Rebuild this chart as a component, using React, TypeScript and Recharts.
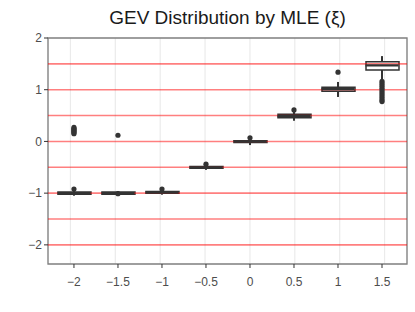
import {
  ComposedChart,
  Bar,
  Scatter,
  XAxis,
  YAxis,
  CartesianGrid,
  ReferenceLine,
  ReferenceArea,
} from 'recharts'

// true shape values (one box per value)
const xi = [-2, -1.5, -1, -0.5, 0, 0.5, 1, 1.5]
const lowerWhisker = [-1.05, -1.04, -1.03, -0.55, -0.07, 0.4, 0.86, 1.2]
const q1 = [-1.02, -1.02, -1.0, -0.52, -0.02, 0.46, 0.97, 1.38]
const median = [-1.0, -1.0, -0.99, -0.5, 0.0, 0.49, 1.01, 1.47]
const q3 = [-0.98, -0.98, -0.97, -0.485, 0.015, 0.525, 1.05, 1.54]
const upperWhisker = [-0.95, -0.96, -0.94, -0.46, 0.05, 0.58, 1.15, 1.65]
const outliers = [
  [0.27, 0.25, 0.23, 0.21, 0.19, 0.17, 0.15, -0.92],
  [0.12, -1.01],
  [-0.92],
  [-0.44],
  [0.07],
  [0.61],
  [1.34],
  [1.16, 1.12, 1.08, 1.04, 1.0, 0.96, 0.92, 0.88, 0.84, 0.8, 0.77],
]
const refValues = [-2, -1.5, -1, -0.5, 0, 0.5, 1, 1.5]
const xTicks = [-2, -1.5, -1, -0.5, 0, 0.5, 1, 1.5]
const yTicks = [-2, -1, 0, 1, 2]

const X_DOMAIN: [number, number] = [-2.295, 1.784]
const Y_DOMAIN: [number, number] = [-2.37, 2]
const BOX_W = 33
const DARK = '#333333'
const FONT = '"Liberation Sans", Arial, sans-serif'

const boxData = xi.map((x, i) => ({
  x,
  box: [q1[i], q3[i]],
  whisker: [lowerWhisker[i], upperWhisker[i]],
}))
const medianData = xi.map((x, i) => ({ x, y: median[i] }))
const outlierData = xi.flatMap((x, i) => outliers[i].map((y) => ({ x, y })))

const fmt = (v: number) => String(v).replace('-', '\u2212')

const MedianLine = (p: any) => (
  <line
    x1={p.cx - BOX_W / 2}
    x2={p.cx + BOX_W / 2}
    y1={p.cy}
    y2={p.cy}
    stroke={DARK}
    strokeWidth={2.2}
  />
)

const Dot = (p: any) => <circle cx={p.cx} cy={p.cy} r={2.6} fill={DARK} />

export default function App() {
  return (
    <div style={s.page}>
      <div style={s.title}>GEV Distribution by MLE (ξ)</div>
      <ComposedChart
        width={415}
        height={312}
        data={boxData}
        margin={{ top: 38, right: 8, bottom: 18, left: 0 }}
      >
        <CartesianGrid horizontal={false} stroke="#ebebeb" strokeWidth={1.2} />
        <XAxis
          xAxisId="main"
          dataKey="x"
          type="number"
          domain={X_DOMAIN}
          ticks={xTicks}
          tickFormatter={fmt}
          allowDataOverflow
          height={30}
          axisLine={false}
          tickLine={{ stroke: DARK }}
          tickSize={4}
          tickMargin={9}
          tick={{ fill: '#4d4d4d', fontSize: 12, fontFamily: FONT }}
        />
        <XAxis
          xAxisId="whisk"
          dataKey="x"
          type="number"
          domain={X_DOMAIN}
          allowDataOverflow
          hide
        />
        <YAxis
          dataKey="y"
          type="number"
          domain={Y_DOMAIN}
          ticks={yTicks}
          tickFormatter={fmt}
          allowDataOverflow
          width={48}
          axisLine={false}
          tickLine={{ stroke: DARK }}
          tickSize={4}
          tick={{ fill: '#4d4d4d', fontSize: 12, fontFamily: FONT }}
        />
        <Bar
          xAxisId="whisk"
          dataKey="whisker"
          barSize={2}
          fill={DARK}
          isAnimationActive={false}
        />
        <Bar
          xAxisId="main"
          dataKey="box"
          barSize={BOX_W}
          fill="#ffffff"
          stroke={DARK}
          strokeWidth={1.5}
          isAnimationActive={false}
        />
        <Scatter
          xAxisId="main"
          data={medianData}
          shape={MedianLine}
          isAnimationActive={false}
        />
        <Scatter
          xAxisId="main"
          data={outlierData}
          shape={Dot}
          isAnimationActive={false}
        />
        {refValues.map((v) => (
          <ReferenceLine
            key={v}
            xAxisId="main"
            y={v}
            stroke="#ff0000"
            strokeOpacity={0.5}
            strokeWidth={1.6}
          />
        ))}
        <ReferenceArea
          xAxisId="main"
          x1={X_DOMAIN[0]}
          x2={X_DOMAIN[1]}
          y1={Y_DOMAIN[0]}
          y2={Y_DOMAIN[1]}
          fill="none"
          stroke="#7f7f7f"
          strokeWidth={1.3}
        />
      </ComposedChart>
    </div>
  )
}

const s = {
  page: {
    position: 'absolute' as const,
    left: 0,
    top: 0,
    width: 415,
    height: 312,
    background: '#fff',
  } as React.CSSProperties,
  title: {
    position: 'absolute' as const,
    left: 48,
    top: 5,
    width: 359,
    textAlign: 'center' as const,
    fontSize: 19,
    lineHeight: '26px',
    color: '#1a1a1a',
    fontFamily: FONT,
  } as React.CSSProperties,
}
